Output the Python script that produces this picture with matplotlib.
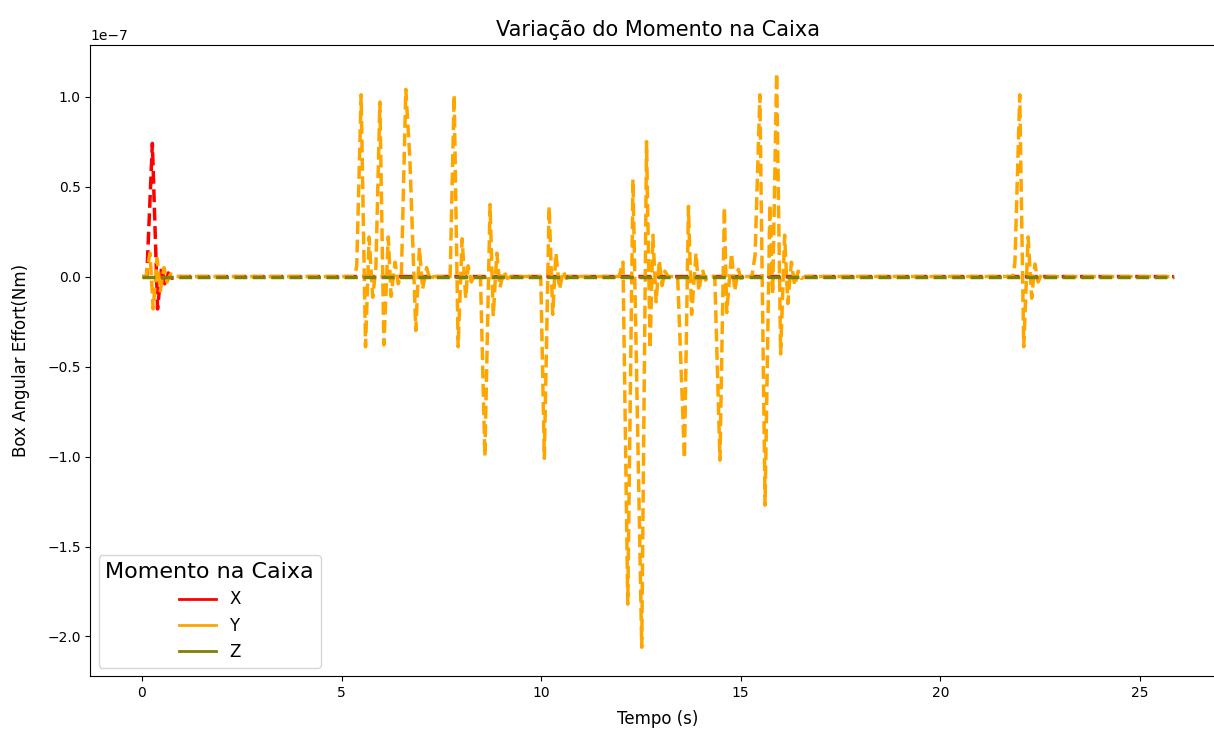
import numpy as np
import matplotlib.pyplot as plt
from matplotlib.lines import Line2D

# escala dos valores (eixo em 1e-7 Nm)
ESCALA = 1e-7

# Momento em X: pico no inicio e depois zero
tempo_x = [0.0, 0.12, 0.26, 0.39, 0.49, 0.57, 0.66, 0.75, 0.85, 25.85]
momento_x = [0.0, 0.0, 0.74, -0.18, 0.05, -0.04, 0.02, -0.01, 0.0, 0.0]

# Momento em Y: varios impactos ao longo do tempo
tempo_y = [
    0.0, 0.10, 0.20, 0.28, 0.38, 0.46, 0.55, 0.63, 0.72, 0.80,
    5.33, 5.38, 5.49, 5.60, 5.69, 5.78, 5.86,
    5.96, 6.06, 6.17, 6.24, 6.34, 6.42, 6.50,
    6.61, 6.71, 6.86, 6.95, 7.03, 7.13, 7.22, 7.30,
    7.72, 7.82, 7.92, 8.02, 8.11, 8.17, 8.25, 8.33, 8.40,
    8.48, 8.59, 8.72, 8.80, 8.89, 8.97, 9.06, 9.15, 9.25,
    9.99, 10.08, 10.20, 10.29, 10.37, 10.46, 10.55, 10.63, 10.72,
    11.95, 12.05, 12.17, 12.30, 12.52, 12.64, 12.73, 12.80, 12.88, 12.96,
    13.03, 13.10, 13.18,
    13.42, 13.59, 13.69, 13.77, 13.88, 13.95, 14.04, 14.12, 14.20,
    14.35, 14.48, 14.59, 14.65, 14.77, 14.85, 14.94, 15.02, 15.10,
    15.28, 15.36, 15.48, 15.61, 15.73, 15.80, 15.90, 16.00, 16.10, 16.18,
    16.27, 16.35, 16.44, 16.52, 16.62,
    21.82, 21.87, 21.99, 22.09, 22.20, 22.29, 22.37, 22.45, 22.53, 22.62,
    25.85,
]
momento_y = [
    0.0, 0.0, 0.13, -0.18, 0.10, -0.08, 0.05, -0.03, 0.015, 0.0,
    0.0, 0.06, 1.01, -0.39, 0.22, -0.115, 0.05,
    0.97, -0.38, 0.22, -0.11, 0.08, -0.04, 0.02,
    1.04, 0.66, -0.30, 0.16, -0.07, 0.05, -0.02, 0.0,
    0.0, 1.01, -0.39, 0.21, -0.12, 0.06, -0.03, 0.01, 0.0,
    0.0, -1.00, 0.40, -0.22, 0.13, -0.06, 0.03, -0.01, 0.0,
    0.0, -1.01, 0.39, -0.21, 0.13, -0.07, 0.03, -0.01, 0.0,
    0.0, 0.08, -1.82, 0.54, -2.06, 0.75, -0.40, 0.23, -0.14, 0.09,
    -0.05, 0.03, 0.0,
    0.0, -1.01, 0.39, -0.21, 0.13, -0.08, 0.04, -0.02, 0.0,
    0.0, -1.02, 0.385, -0.20, 0.13, -0.08, 0.04, -0.02, 0.0,
    0.0, 0.12, 1.01, -1.27, 0.40, -0.10, 1.13, -0.43, 0.23, -0.15,
    0.08, -0.05, 0.03, -0.01, 0.0,
    0.0, 0.08, 1.01, -0.39, 0.22, -0.12, 0.07, -0.03, 0.01, 0.0,
    0.0,
]

# Momento em Z: nulo durante toda a simulacao
tempo_z = [0.0, 25.85]
momento_z = [0.0, 0.0]

series = [
    ('X', tempo_x, momento_x, 'red'),
    ('Y', tempo_y, momento_y, 'orange'),
    ('Z', tempo_z, momento_z, 'olive'),
]

fig = plt.figure(figsize=(12.14, 7.31), dpi=100)
ax = fig.add_axes([90.4 / 1214, 55 / 731, 1135 / 1214, 631.5 / 731])

for nome, t, m, cor in series:
    ax.plot(t, np.array(m) * ESCALA, linestyle='--', linewidth=2.5, color=cor)

# legenda com linhas continuas
handles = [Line2D([], [], color=cor, linewidth=2) for _, _, _, cor in series]
labels = [nome for nome, _, _, _ in series]
ax.legend(handles, labels, title='Momento na Caixa', loc='lower left',
          fontsize=12, title_fontsize=16, handlelength=2.2)

ax.set_title('Variação do Momento na Caixa', fontsize=15)
ax.set_xlabel('Tempo (s)', fontsize=12, labelpad=7.5)
ax.set_ylabel('Box Angular Effort(Nm)', fontsize=12, labelpad=12)
ax.spines['right'].set_visible(False)

fig.savefig('out.png', dpi=100)
